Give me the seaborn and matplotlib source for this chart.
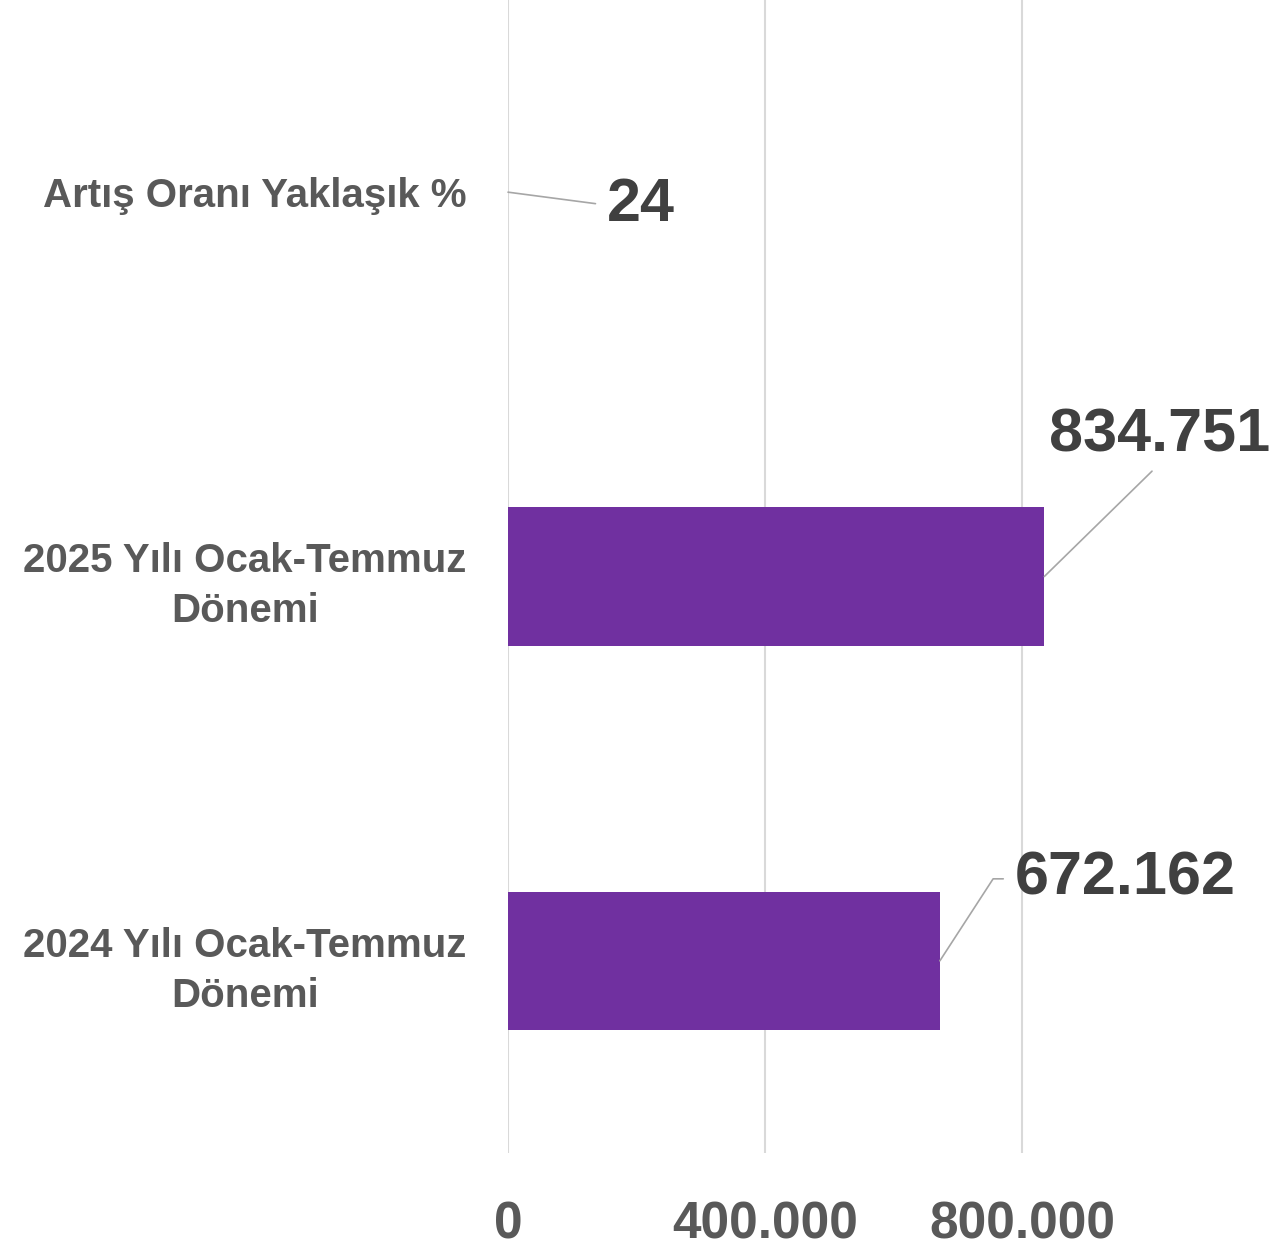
import matplotlib
matplotlib.use('Agg')
import matplotlib.pyplot as plt
import seaborn as sns
import pandas as pd

categories = ['Artış Oranı Yaklaşık %', '2025 Yılı Ocak-Temmuz\nDönemi', '2024 Yılı Ocak-Temmuz\nDönemi']
values = [24, 834751, 672162]
value_labels = ['24', '834.751', '672.162']
xticks = [0, 400000, 800000]
xtick_labels = ['0', '400.000', '800.000']

df = pd.DataFrame({'category': categories, 'value': values})

sns.set_theme(style='white')
plt.rcParams['font.family'] = ['Liberation Sans', 'DejaVu Sans']

fig = plt.figure(figsize=(12.84, 12.47), dpi=100)
ax = fig.add_axes([508 / 1284, (1247 - 1153) / 1247, 771 / 1284, 1153 / 1247])

sns.barplot(data=df, x='value', y='category', orient='h', color='#7030A0',
            saturation=1, width=0.36, linewidth=0, edgecolor='none', ax=ax)

ax.set_xlim(0, 1200000)
ax.set_ylim(2.5, -0.5)
ax.set_xticks(xticks)
ax.set_xticklabels(xtick_labels, fontsize=37, fontweight='bold', color='#595959')
ax.set_yticks(range(len(categories)))
ax.set_yticklabels(categories, fontsize=29, fontweight='bold', color='#595959',
                   multialignment='center', linespacing=1.4)
ax.tick_params(axis='x', length=0, pad=34)
ax.tick_params(axis='y', length=0, pad=30)
ax.set_xlabel('')
ax.set_ylabel('')
ax.xaxis.grid(True, color='#D9D9D9', linewidth=1.5)
ax.set_axisbelow(True)
for s in ax.spines.values():
    s.set_visible(False)

line_col = '#A6A6A6'
# leader-line label positions (offset in pixels from bar end)
ax.annotate(value_labels[0], xy=(values[0], 0), xytext=(99, -13), textcoords='offset pixels',
            ha='left', va='center', fontsize=44, fontweight='bold', color='#404040',
            arrowprops=dict(arrowstyle='-', color=line_col, lw=1.2, relpos=(0, 0.5),
                            shrinkA=6, shrinkB=0))
ax.annotate(value_labels[1], xy=(values[1], 1), xytext=(115, 141), textcoords='offset pixels',
            ha='center', va='center', fontsize=44, fontweight='bold', color='#404040',
            arrowprops=dict(arrowstyle='-', color=line_col, lw=1.2, relpos=(0.5, 0),
                            shrinkA=4, shrinkB=0))
ax.annotate(value_labels[2], xy=(values[2], 2), xytext=(75, 82), textcoords='offset pixels',
            ha='left', va='center', fontsize=44, fontweight='bold', color='#404040',
            arrowprops=dict(arrowstyle='-', color=line_col, lw=1.2, relpos=(0, 0.5),
                            shrinkA=6, shrinkB=0,
                            connectionstyle='angle,angleA=0,angleB=57,rad=0'))

fig.savefig('out.png', dpi=100, facecolor='white')
